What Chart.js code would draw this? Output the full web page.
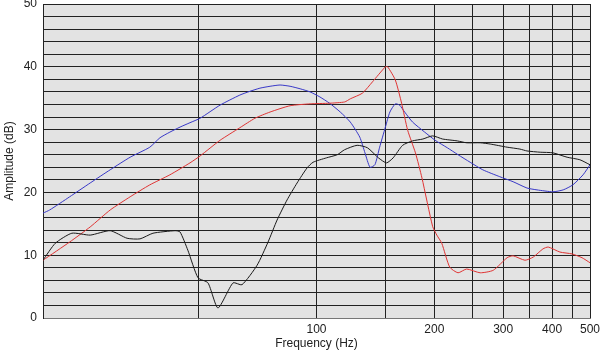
<!DOCTYPE html>
<html>
<head>
<meta charset="utf-8">
<script src="https://cdn.jsdelivr.net/npm/chart.js@4/dist/chart.umd.min.js"></script>
<style>
html,body{margin:0;padding:0;background:#fff;}
#wrap{width:600px;height:352px;}
</style>
</head>
<body>
<div id="wrap"><canvas id="c" width="600" height="352"></canvas></div>
<script>
// Tick positions / labels
const xGridTicks = [20, 50, 100, 150, 200, 250, 300, 350, 400, 450, 500];
const xTickLabels = [100, 200, 300, 400, 500];
const yGridTicks = [0,2,4,6,8,10,12,14,16,18,20,22,24,26,28,30,32,34,36,38,40,42,44,46,48,50];
const yTickLabels = [0, 10, 20, 30, 40, 50];

// Blue series
const blueFreq = [20,20.8,23.4,26.4,29.7,33.4,37.5,39.8,42.2,44.8,47.5,50.4,56.7,63.7,67.6,71.7,76.1,80.7,85.6,90.8,96.3,102,108,115,122,129,133,137,141,145,150,154,159,163,168,176,189,201,216,230,247,266,294,318,345,366,402,427,452,480,500];
const blueAmp = [16.7,17.2,19.3,21.5,23.6,25.6,27.2,28.7,29.6,30.4,31.1,31.8,33.9,35.5,36.1,36.6,36.9,37.1,36.9,36.5,36.0,35.2,34.2,32.8,31.2,28.8,26.3,24.0,24.4,27.2,30.4,32.8,34.1,33.9,32.8,31.2,29.6,28.3,27.1,26.0,24.8,23.6,22.5,21.7,20.7,20.4,20.1,20.4,21.2,22.8,24.4];

// Red series
const redFreq = [20,23.4,26.4,29.7,33.4,37.5,42.2,47.5,50.4,56.7,63.7,69.6,76.1,85.6,96.3,108,118,122,131,139,150,152,159,165,171,179,186,198,203,209,219,230,242,262,283,307,318,341,358,379,391,419,450,477,500];
const redAmp = [9.2,12.1,14.5,17.2,19.3,21.2,22.8,24.7,25.8,28.3,30.3,31.8,32.8,33.8,34.1,34.2,34.4,34.9,35.8,37.6,40.0,40.0,37.9,34.2,29.9,26.3,22.3,14.6,13.2,11.9,8.1,7.2,7.8,7.2,7.6,9.6,9.9,9.2,9.7,11.0,11.3,10.5,10.2,9.6,8.8];

// Black series
const blackFreq = [20,21.5,23.7,26.4,29.7,32.8,35.4,38.2,43.5,44.8,46.9,49.8,52.8,56.0,61.2,64.5,70.5,75.2,79.3,84.1,89.2,94.6,98.0,106,113,118,127,135,144,151,157,166,176,187,198,210,229,242,262,278,307,331,345,373,402,437,471,500];
const blackAmp = [9.2,11.9,13.5,13.2,13.9,12.7,12.6,13.5,13.9,13.7,10.8,6.4,5.6,1.6,5.6,5.3,8.4,12.1,15.6,18.8,21.5,23.9,24.8,25.5,26.0,26.8,27.5,27.1,25.5,24.7,25.5,27.5,28.2,28.5,29.0,28.5,28.2,27.9,27.9,27.7,27.2,26.9,26.6,26.4,26.3,25.6,25.2,24.4];

const toPts = (fs, vs) => fs.map((f, i) => ({x: f, y: vs[i]}));

const FONT = "'Liberation Sans',Arial,sans-serif";

const bgPlugin = {
  id: 'plotBg',
  beforeDraw(chart) {
    const {ctx, chartArea: a} = chart;
    ctx.save();
    ctx.fillStyle = '#ffffff';
    ctx.fillRect(0, 0, chart.width, chart.height);
    ctx.fillStyle = '#e3e3e3';
    ctx.fillRect(a.left, a.top, a.right - a.left, a.bottom - a.top);
    ctx.restore();
  }
};

const ds = (label, fs, vs, color) => ({
  label, data: toPts(fs, vs), borderColor: color, borderWidth: 1,
  pointRadius: 0, fill: false, tension: 0.2
});

new Chart(document.getElementById('c'), {
  type: 'line',
  data: {
    datasets: [
      ds('Black', blackFreq, blackAmp, '#1a1a1a'),
      ds('Red', redFreq, redAmp, '#e03434'),
      ds('Blue', blueFreq, blueAmp, '#3838c8')
    ]
  },
  options: {
    responsive: false,
    animation: false,
    events: [],
    layout: { padding: { top: 4, right: 10, left: 0, bottom: 0 } },
    plugins: { legend: { display: false }, tooltip: { enabled: false } },
    scales: {
      x: {
        type: 'logarithmic', min: 20, max: 500,
        afterBuildTicks(axis) { axis.ticks = xGridTicks.map(v => ({value: v})); },
        afterFit(axis) { axis.height = 34; axis.paddingLeft = 0; axis.paddingRight = 0; },
        ticks: {
          autoSkip: false, maxRotation: 0, padding: 4, color: '#222',
          font: { family: FONT, size: 12 },
          callback: (v) => xTickLabels.includes(v) ? String(v) : ''
        },
        grid: { color: '#222', lineWidth: 1, drawTicks: false },
        border: { display: true, color: '#777' },
        title: { display: true, text: 'Frequency (Hz)', color: '#222',
                 font: { family: FONT, size: 12 }, padding: { top: 0, bottom: 1 } }
      },
      y: {
        type: 'linear', min: 0, max: 50,
        afterBuildTicks(axis) { axis.ticks = yGridTicks.map(v => ({value: v})); },
        afterFit(axis) { axis.width = 43; axis.paddingTop = 0; axis.paddingBottom = 0; },
        ticks: {
          autoSkip: false, padding: 6, color: '#222',
          font: { family: FONT, size: 12 },
          callback: (v) => yTickLabels.includes(v) ? String(v) : ''
        },
        grid: { color: '#222', lineWidth: 1, drawTicks: false },
        border: { display: true, color: '#222' },
        title: { display: true, text: 'Amplitude (dB)', color: '#222',
                 font: { family: FONT, size: 12 }, padding: { top: 2, bottom: 0 } }
      }
    }
  },
  plugins: [bgPlugin]
});
</script>
</body>
</html>
